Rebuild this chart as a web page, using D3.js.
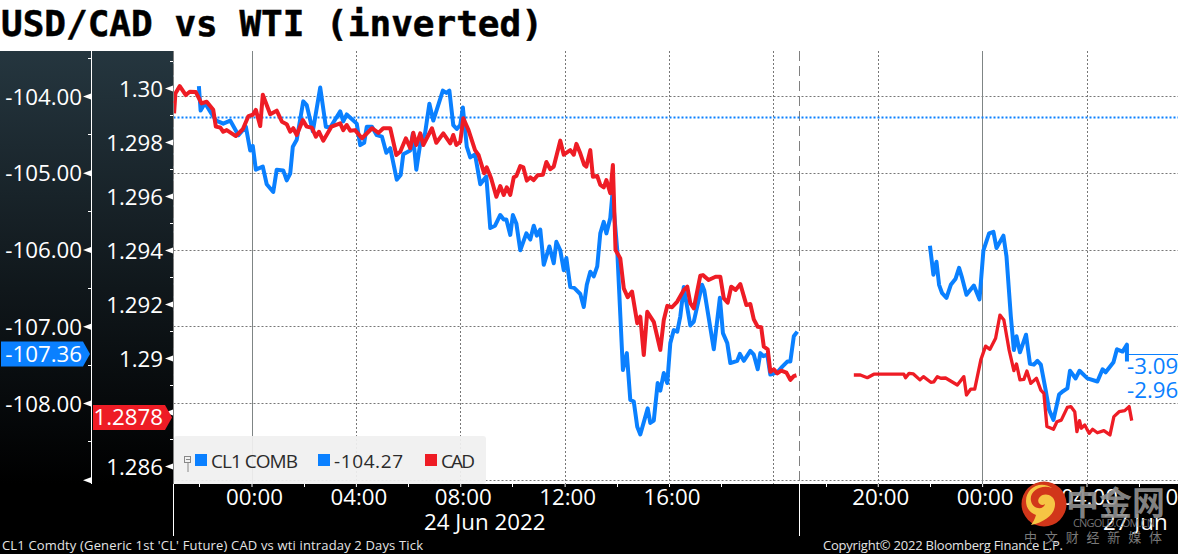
<!DOCTYPE html>
<html><head><meta charset="utf-8">
<script src="https://cdnjs.cloudflare.com/ajax/libs/d3/7.8.5/d3.min.js"></script>
<style>html,body{margin:0;padding:0;background:#fff;overflow:hidden}svg{display:block}text{font-family:"Open Sans",sans-serif}</style>
</head><body><div id="chart"></div>
<script>
// minutes from 24 Jun 00:00 on a trading-time axis (weekend removed)
const blueMinA=[-121,-117,-107,-92,-81,-65,-49,-30,-13,-3,3,10,26,35,50,58,73,81,89,95,104,119,127,141,158,171,181,204,211,219,242,250,259,265,277,288,300,310,319,334,343,349,365,371,379,388,399,409,418,440,448,455,464,472,480,486,495,503,514,526,540,549,560,572,580,586,595,601,609,618,632,641,649,656,664,672,685,695,701,710,718,724,733,742,756,764,771,779,787,795,802,810,816,825,830,841,854,863,871,879,887,894,911,917,925,934,940,948,956,963,971,979,986,994,1009,1017,1036,1041,1063,1077,1084,1094,1101,1117,1123,1132,1147,1155,1164,1170,1177,1186,1193,1209,1220,1232,1239,1247,1255];
const blueValA=[-103.87,-104.19,-104.09,-104.23,-104.32,-104.36,-104.32,-104.51,-104.40,-104.71,-104.65,-104.96,-104.92,-105.15,-105.25,-104.96,-104.97,-105.10,-105.01,-104.66,-104.57,-104.07,-104.12,-104.46,-103.89,-104.40,-104.41,-104.20,-104.33,-104.24,-104.36,-104.64,-104.61,-104.40,-104.40,-104.51,-104.53,-104.74,-104.68,-105.09,-105.03,-104.76,-104.71,-104.49,-104.96,-104.62,-104.49,-104.10,-104.32,-103.93,-103.96,-103.93,-104.38,-104.43,-104.38,-104.15,-104.66,-104.80,-104.76,-105.15,-105.05,-105.72,-105.69,-105.55,-105.61,-105.61,-105.81,-105.55,-105.66,-106.01,-105.79,-105.87,-105.69,-105.82,-105.74,-106.20,-105.96,-106.18,-105.90,-106.01,-106.27,-106.11,-106.49,-106.50,-106.58,-106.75,-106.46,-106.29,-106.35,-106.22,-105.79,-105.64,-105.79,-105.59,-105.27,-106.01,-107.57,-107.35,-107.96,-107.98,-108.31,-108.41,-108.07,-108.26,-108.23,-107.74,-107.84,-107.61,-107.74,-107.22,-107.05,-107.07,-106.87,-106.49,-106.99,-106.94,-106.46,-106.53,-107.30,-106.63,-107.09,-107.22,-107.48,-107.45,-107.36,-107.45,-107.32,-107.37,-107.56,-107.35,-107.39,-107.37,-107.63,-107.60,-107.53,-107.46,-107.46,-107.13,-107.07];
const blueMinB=[1560,1568,1575,1581,1588,1598,1608,1619,1627,1634,1644,1661,1674,1683,1696,1706,1713,1729,1736,1746,1753,1759,1767,1781,1790,1799,1807,1815,1826,1834,1844,1857,1865,1876,1882,1895,1904,1922,1945,1957,1964,1982,1990,2003,2013,2013];
const blueValB=[-105.95,-106.33,-106.16,-106.46,-106.57,-106.63,-106.46,-106.38,-106.24,-106.37,-106.59,-106.47,-106.65,-106.01,-105.79,-105.77,-105.98,-105.82,-106.09,-106.87,-107.31,-107.13,-107.34,-107.11,-107.49,-107.50,-107.45,-107.50,-107.83,-108.09,-108.22,-107.89,-107.85,-107.81,-107.58,-107.68,-107.58,-107.68,-107.72,-107.56,-107.60,-107.47,-107.30,-107.33,-107.24,-107.46];
const redMinA=[-178,-175,-165,-151,-142,-128,-115,-103,-88,-82,-72,-65,-57,-36,-20,-7,3,10,20,26,43,58,70,81,89,96,104,118,127,139,148,155,165,184,204,211,219,227,238,254,277,292,303,319,333,342,355,365,372,379,388,395,415,425,441,457,464,471,480,487,499,514,522,535,541,551,563,572,580,587,595,603,609,618,625,633,641,649,658,670,678,687,695,710,718,733,741,747,756,765,770,779,785,795,802,810,816,825,831,837,848,856,865,875,887,894,902,910,925,940,948,956,967,979,994,1002,1009,1017,1032,1038,1051,1067,1078,1086,1095,1103,1113,1124,1138,1147,1155,1164,1172,1178,1187,1193,1201,1209,1218,1230,1239,1247,1253];
const redValA=[1.29906,1.2998,1.30007,1.29974,1.29986,1.29985,1.29943,1.29949,1.29919,1.29857,1.29854,1.29838,1.29844,1.29822,1.29847,1.29896,1.29901,1.29919,1.29859,1.29975,1.29903,1.29916,1.29875,1.29866,1.29838,1.29851,1.29826,1.29881,1.29857,1.29853,1.2982,1.29838,1.29805,1.29857,1.29869,1.29844,1.29863,1.29842,1.29844,1.29814,1.29851,1.29834,1.29851,1.29851,1.29752,1.29764,1.29814,1.29777,1.29834,1.29789,1.29832,1.29789,1.29851,1.29797,1.29832,1.29795,1.29826,1.29789,1.29801,1.29888,1.29844,1.2977,1.29752,1.29684,1.29706,1.29666,1.29597,1.29637,1.29604,1.29632,1.29604,1.29669,1.29674,1.29711,1.29706,1.29657,1.29669,1.29659,1.29677,1.29679,1.29726,1.29699,1.29709,1.29805,1.29753,1.2977,1.29753,1.29793,1.29758,1.29715,1.29709,1.2977,1.29671,1.29674,1.29641,1.29632,1.29659,1.2961,1.29715,1.294,1.29369,1.29258,1.29225,1.29246,1.29129,1.29153,1.29011,1.29171,1.29134,1.2903,1.29141,1.29193,1.29188,1.29209,1.29252,1.29264,1.29203,1.29184,1.29305,1.29307,1.29289,1.29301,1.29301,1.29221,1.29205,1.29264,1.29252,1.29274,1.29196,1.292,1.29143,1.29116,1.29114,1.29042,1.29032,1.28949,1.28958,1.28943,1.28953,1.28946,1.28919,1.28933,1.28936];
const redMinB=[1385,1400,1416,1431,1500,1504,1512,1522,1537,1545,1562,1569,1577,1585,1596,1623,1638,1644,1654,1663,1677,1688,1698,1711,1721,1730,1742,1753,1759,1767,1776,1783,1792,1805,1815,1822,1829,1844,1852,1862,1876,1884,1893,1898,1904,1908,1916,1926,1934,1945,1960,1974,1983,1995,2008,2018,2024];
const redValB=[1.28937,1.28937,1.28927,1.2894,1.2894,1.28927,1.28943,1.28941,1.28919,1.28931,1.2891,1.28912,1.28931,1.28925,1.28926,1.289,1.28931,1.28863,1.28885,1.28885,1.28993,1.29044,1.29032,1.29073,1.29159,1.29141,1.2903,1.28953,1.28978,1.28919,1.28921,1.28952,1.28906,1.28925,1.28881,1.28869,1.28746,1.28736,1.28764,1.2877,1.28817,1.2882,1.28801,1.28727,1.28768,1.2874,1.28752,1.28721,1.28736,1.28723,1.28731,1.28715,1.28783,1.28801,1.28805,1.2882,1.28768];

const leftTicks=[-104,-105,-106,-107,-108,-109];
const leftLabels=["-104.00","-105.00","-106.00","-107.00","-108.00",""];
const rightTicks=[1.30,1.298,1.296,1.294,1.292,1.29,1.288,1.286];
const rightLabels=["1.30","1.298","1.296","1.294","1.292","1.29","","1.286"];
const timeTicks=[0,240,480,720,960,1440,1680,1920,2160];
const timeLabels=["00:00","04:00","08:00","12:00","16:00","20:00","00:00","04:00","08:00"];
const minorTimes=[-120,120,360,600,840,1080];
const minorTimesB=[1320,1560,1800,2040];
const gridTimes=[240,480,720,960,1200,1440,1920];
const solidTimes=[0,1680];
const lastBlue=-107.36, lastRed=1.2878, avgBlue=-104.27;
const legendItems=["CL1 COMB","-104.27","CAD"];
const titleText="USD/CAD vs WTI (inverted)";

const W=1178,H=554,pTop=51,pBot=484,axL=91.5,axR=173.5,FS="22.3px";
const BLUE="#0a80ff",RED="#ee1c25";
const x=d3.scaleLinear().domain([0,1920]).range([251.5,1086.5]);
const yL=d3.scaleLinear().domain([-104,-108]).range([96,403]);
const yR=d3.scaleLinear().domain([1.30,1.286]).range([88,466]);
const svg=d3.select("#chart").append("svg").attr("width",W).attr("height",H);
const defs=svg.append("defs");
const g=defs.append("linearGradient").attr("id","pan").attr("x1",0).attr("x2",0).attr("y1",0).attr("y2",1);
g.append("stop").attr("offset",0).attr("stop-color","#25363f");
g.append("stop").attr("offset",.55).attr("stop-color","#10171b");
g.append("stop").attr("offset",1).attr("stop-color","#000");
defs.append("clipPath").attr("id","plot").append("rect").attr("x",axR).attr("y",pTop).attr("width",W-axR).attr("height",pBot-pTop);

svg.append("rect").attr("width",W).attr("height",H).attr("fill","#fff");
svg.append("rect").attr("x",0).attr("y",pTop).attr("width",axR).attr("height",pBot-pTop).attr("fill","url(#pan)");
svg.append("rect").attr("x",0).attr("y",pBot).attr("width",W).attr("height",H-pBot).attr("fill","#000");

svg.append("text").attr("x",1).attr("y",36).text(titleText).attr("fill","#000")
  .attr("stroke","#000").attr("stroke-width",.5)
  .style("font-family",'"DejaVu Sans Mono",monospace').style("font-weight","700").style("font-size","36px");

// grid
const plot=svg.append("g").attr("clip-path","url(#plot)");
plot.selectAll(".gh").data(leftTicks).join("line").attr("x1",axR).attr("x2",W)
  .attr("y1",d=>Math.round(yL(d))+.5).attr("y2",d=>Math.round(yL(d))+.5)
  .attr("stroke","#777").attr("stroke-dasharray","2,2");
plot.selectAll(".gv").data(gridTimes).join("line").attr("y1",pTop).attr("y2",pBot)
  .attr("x1",d=>Math.round(x(d))+.5).attr("x2",d=>Math.round(x(d))+.5)
  .attr("stroke","#777").attr("stroke-dasharray","2,2");
plot.selectAll(".gs").data(solidTimes).join("line").attr("y1",pTop).attr("y2",pBot)
  .attr("x1",d=>Math.round(x(d))+.5).attr("x2",d=>Math.round(x(d))+.5).attr("stroke","#7f8585");
plot.append("line").attr("x1",799.5).attr("x2",799.5).attr("y1",pTop).attr("y2",pBot).attr("stroke","#808080").attr("stroke-dasharray","10,5");
svg.append("line").attr("x1",axR).attr("x2",axR).attr("y1",pTop).attr("y2",pBot).attr("stroke","#808080").attr("stroke-dasharray","11,2");
plot.append("line").attr("x1",axR).attr("x2",W).attr("y1",Math.round(yL(avgBlue))+.5).attr("y2",Math.round(yL(avgBlue))+.5)
  .attr("stroke",BLUE).attr("stroke-width",2).attr("stroke-dasharray","2,2");

// legend box
svg.append("rect").attr("x",174).attr("y",436).attr("width",312).attr("height",48).attr("rx",3).attr("fill","#f0f0f0").attr("fill-opacity",.93);
const lg=svg.append("g");
lg.append("rect").attr("x",184.5).attr("y",456.5).attr("width",6).attr("height",6).attr("fill","none").attr("stroke","#888");
lg.append("line").attr("x1",188).attr("x2",188).attr("y1",462).attr("y2",472).attr("stroke","#888");
lg.append("line").attr("x1",186).attr("x2",190).attr("y1",459.5).attr("y2",459.5).attr("stroke","#888");
const legX=[195,318,425],legC=[BLUE,BLUE,RED],legW=[87,69,34];
legendItems.forEach((t,i)=>{
  lg.append("rect").attr("x",legX[i]).attr("y",454).attr("width",12).attr("height",12).attr("fill",legC[i]);
  lg.append("text").attr("x",legX[i]+16).attr("y",468).text(t).attr("fill","#2b2b2b").style("font-size","19px")
    .attr("textLength",legW[i]).attr("lengthAdjust","spacing");
});

// lines
const line=(xs,ys,sc)=>d3.line().x((d,i)=>x(xs[i])).y(d=>sc(d)).curve(d3.curveLinear)(ys);
const series=[[blueMinA,blueValA,yL,BLUE],[blueMinB,blueValB,yL,BLUE],[redMinA,redValA,yR,RED],[redMinB,redValB,yR,RED]];
series.forEach(([a,b,sc,c],i)=>plot.append("path").attr("d",line(a,b,sc)).attr("fill","none").attr("stroke",c)
  .attr("stroke-width",i==3?3.3:4).attr("stroke-linejoin","round").attr("stroke-linecap","butt"));

// y axes
function yaxis(sc,ticks,labels,xpos,lblRight){
  const ax=d3.axisLeft(sc).tickValues(ticks).tickSize(0).tickPadding(0).tickFormat((d,i)=>labels[i]);
  const a=svg.append("g").attr("transform",`translate(${xpos},0)`).call(ax);
  a.select(".domain").remove();
  a.selectAll("text").attr("x",lblRight-xpos).attr("dy",".36em").attr("fill","#fff").style("font-size",FS).style("font-family",'"Open Sans",sans-serif');
  a.selectAll(".tick").append("path").attr("d","M-8,0L0,-3L0,3Z").attr("fill","#fff");
  const step=sc(ticks[1])-sc(ticks[0]);
  ticks.concat([ticks[0]-(ticks[1]-ticks[0])]).forEach(t=>{
    const y=Math.round(sc(t)-step/2)+.5; if(y>pTop&&y<pBot)
    svg.append("line").attr("x1",xpos-3).attr("x2",xpos).attr("y1",y).attr("y2",y).attr("stroke","#fff");
  });
}
yaxis(yL,leftTicks,leftLabels,91,82);
yaxis(yR,rightTicks,rightLabels,173,163);
svg.append("line").attr("x1",axL).attr("x2",axL).attr("y1",pTop).attr("y2",pBot).attr("stroke","#fff");

// value tags
const tag=(x0,x1,y,c,t,right)=>{
  svg.append("path").attr("d",`M${x0},${y-12.5}L${x1-7},${y-12.5}L${x1},${y}L${x1-7},${y+12.5}L${x0},${y+12.5}Z`).attr("fill",c);
  svg.append("text").attr("x",right).attr("y",y).attr("dy",".36em").attr("text-anchor","end").attr("fill","#fff").style("font-size",FS).text(t);
};
tag(1,90,yL(lastBlue),BLUE,lastBlue.toFixed(2),82);
tag(93,172,yR(lastRed),RED,lastRed.toFixed(4),163);

// x axis
const xAx=d3.axisBottom(x).tickValues(timeTicks).tickSize(3).tickPadding(0).tickFormat((d,i)=>timeLabels[i]);
const xa=svg.append("g").attr("transform",`translate(0,${pBot})`).call(xAx);
xa.select(".domain").remove();
xa.selectAll("line").attr("stroke","#fff");
xa.selectAll("text").attr("x",2.5).attr("y",21).attr("dy",0).attr("fill","#fff").style("font-size",FS).style("font-family",'"Open Sans",sans-serif').attr("text-anchor","middle");
minorTimes.concat(minorTimesB).forEach(t=>svg.append("line").attr("x1",Math.round(x(t))+.5).attr("x2",Math.round(x(t))+.5).attr("y1",pBot).attr("y2",pBot+3).attr("stroke","#fff"));
[173.5,799.5].forEach(p=>svg.append("line").attr("x1",p).attr("x2",p).attr("y1",pBot).attr("y2",536).attr("stroke","#fff"));
svg.append("text").attr("x",424).attr("y",530).attr("fill","#fff").style("font-size",FS).text("24 Jun 2022");

// right-hand readout
svg.append("line").attr("x1",1127).attr("x2",W).attr("y1",354.5).attr("y2",354.5).attr("stroke",BLUE);
svg.append("text").attr("x",1127).attr("y",374).attr("fill",BLUE).style("font-size",FS).text("-3.09");
svg.append("text").attr("x",1127).attr("y",398).attr("fill",BLUE).style("font-size",FS).text("-2.96");

// footer
svg.append("text").attr("x",2).attr("y",550).attr("fill","#e4e4e4").style("font-size","13px").attr("textLength",421).attr("lengthAdjust","spacing").text("CL1 Comdty (Generic 1st 'CL' Future) CAD vs wti intraday 2 Days  Tick");
svg.append("text").attr("x",823).attr("y",550).attr("fill","#e4e4e4").style("font-size","13px").attr("textLength",240).attr("lengthAdjust","spacing").text("Copyright© 2022 Bloomberg Finance L.P.");

// watermark
svg.append("text").attr("x",1103).attr("y",530).attr("fill","#fff").style("font-size",FS).text("27 Jun");
const wm=svg.append("g");
wm.append("circle").attr("cx",1044).attr("cy",504).attr("r",22.5).attr("fill","#d1361a");
wm.append("path").attr("d","M1031,525C1046,522 1056,513 1055,503C1054,494 1043,492 1039,498C1036,503 1042,507 1045,504C1044,510 1033,510 1031,501C1029,491 1041,484 1052,488C1040,480 1026,488 1026,501C1026,508 1030,513 1036,515C1035,519 1033,522 1031,525Z").attr("fill","#f6c544");
wm.append("text").attr("x",1066).attr("y",515).attr("fill","#8f8f8f").attr("fill-opacity",.92).style("font-family",'"Noto Sans CJK SC"').style("font-weight","700").style("font-size","33px").text("中金网");
wm.append("text").attr("x",1073).attr("y",527).attr("fill","#8a8a8a").attr("fill-opacity",.85).style("font-size","11px").attr("textLength",82).text("CNGOLD.COM.CN");
wm.append("text").attr("x",1024).attr("y",542).attr("fill","#7a7a7a").style("font-family",'"Noto Sans CJK SC"').style("font-size","13px").attr("textLength",138).attr("lengthAdjust","spacing").text("中文财经新媒体");
</script></body></html>
